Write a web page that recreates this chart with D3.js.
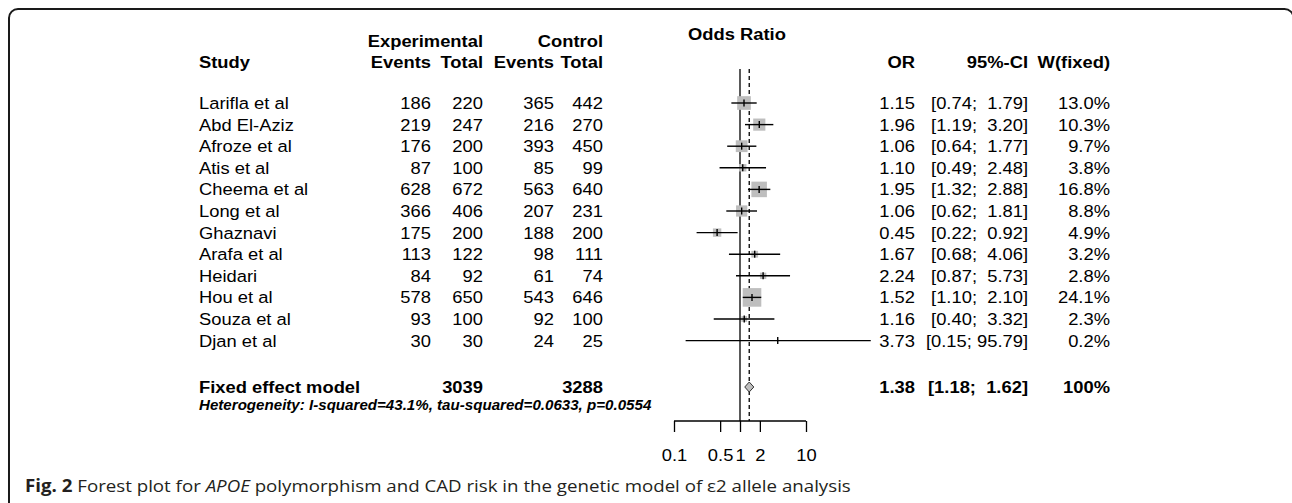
<!DOCTYPE html>
<html>
<head>
<meta charset="utf-8">
<script src="https://cdn.jsdelivr.net/npm/d3@7"></script>
<style>
    body { margin: 0; background: #fff; }
    svg text { font-family: "Liberation Sans", Arial, Helvetica, sans-serif; fill: #000; }
</style>
</head>
<body>
<div id="forest"></div>
<script>
// study data
var studies = ["Larifla et al", "Abd El-Aziz", "Afroze et al", "Atis et al", "Cheema et al", "Long et al",
    "Ghaznavi", "Arafa et al", "Heidari", "Hou et al", "Souza et al", "Djan et al"];
var expEvents = [186, 219, 176, 87, 628, 366, 175, 113, 84, 578, 93, 30];
var expTotal = [220, 247, 200, 100, 672, 406, 200, 122, 92, 650, 100, 30];
var ctrlEvents = [365, 216, 393, 85, 563, 207, 188, 98, 61, 543, 92, 24];
var ctrlTotal = [442, 270, 450, 99, 640, 231, 200, 111, 74, 646, 100, 25];
var oddsRatio = [1.15, 1.96, 1.06, 1.10, 1.95, 1.06, 0.45, 1.67, 2.24, 1.52, 1.16, 3.73];
var ciLower = [0.74, 1.19, 0.64, 0.49, 1.32, 0.62, 0.22, 0.68, 0.87, 1.10, 0.40, 0.15];
var ciUpper = [1.79, 3.20, 1.77, 2.48, 2.88, 1.81, 0.92, 4.06, 5.73, 2.10, 3.32, 95.79];
var weightFixed = [13.0, 10.3, 9.7, 3.8, 16.8, 8.8, 4.9, 3.2, 2.8, 24.1, 2.3, 0.2];

// pooled estimate
var pooled = {or: 1.38, lower: 1.18, upper: 1.62, weight: "100%", expTotal: 3039, ctrlTotal: 3288};
var heterogeneity = "Heterogeneity: I-squared=43.1%, tau-squared=0.0633, p=0.0554";
var axisTicks = [0.1, 0.5, 1, 2, 10];

var width = 1292, height = 503;

var svg = d3.select("#forest").append("svg")
    .attr("width", width)
    .attr("height", height);

// frame round the figure (right and bottom sides run off the page)
svg.append("rect")
    .attr("x", 9).attr("y", 9)
    .attr("width", 1284.5).attr("height", 560)
    .attr("rx", 9)
    .style("fill", "none")
    .style("stroke", "#1a1a1a")
    .style("stroke-width", 2);

// set the ranges
var x = d3.scaleLog().domain([0.1, 10]).range([674, 806]);
var y = d3.scaleLinear().domain([0, studies.length - 1]).range([103, 103 + 21.6 * (studies.length - 1)]);
var box = d3.scaleSqrt().domain([0, 24.1]).range([0, 18.6]);
var yPooled = 387, axisY = 421;

var fs = 17, stretch = 1.08;
var data = studies.map(function (s, i) {
    return {study: s, ee: expEvents[i], et: expTotal[i], ce: ctrlEvents[i], ct: ctrlTotal[i],
        or: oddsRatio[i], lo: ciLower[i], up: ciUpper[i], w: weightFixed[i]};
});

// column right edges (left edge for study)
var col = {study: 199, ee: 431, et: 483, ce: 554, ct: 603, or: 915, ci: 1028, w: 1110};

function ciText(lo, up) {
    var u = up.toFixed(2);
    if (u.length < 5) u = " " + u;
    return "[" + lo.toFixed(2) + "; " + u + "]";
}

// text is a bit wider than plain Arial in the figure, so stretch it sideways
function addText(txt, xp, yp, anchor, bold, size, italic) {
    return svg.append("text")
        .attr("transform", "translate(" + xp + "," + yp + ") scale(" + stretch + ",1)")
        .attr("dy", "0.35em")
        .attr("text-anchor", anchor)
        .style("font-size", (size || fs) + "px")
        .style("font-weight", bold ? "bold" : "normal")
        .style("font-style", italic ? "italic" : "normal")
        .style("white-space", "pre")
        .text(txt);
}

// headers
addText("Experimental", col.et, 41, "end", true);
addText("Control", col.ct, 41, "end", true);
addText("Study", col.study, 62, "start", true);
addText("Events", col.ee, 62, "end", true);
addText("Total", col.et, 62, "end", true);
addText("Events", col.ce, 62, "end", true);
addText("Total", col.ct, 62, "end", true);
addText("Odds Ratio", 688, 34, "start", true);
addText("OR", col.or, 62, "end", true);
addText("95%-CI", col.ci, 62, "end", true);
addText("W(fixed)", col.w, 62, "end", true);

// study rows
data.forEach(function (d, i) {
    var yy = y(i);
    addText(d.study, col.study, yy, "start");
    addText(d.ee, col.ee, yy, "end");
    addText(d.et, col.et, yy, "end");
    addText(d.ce, col.ce, yy, "end");
    addText(d.ct, col.ct, yy, "end");
    addText(d.or.toFixed(2), col.or, yy, "end");
    addText(ciText(d.lo, d.up), col.ci, yy, "end");
    addText(d.w.toFixed(1) + "%", col.w, yy, "end");
});

// pooled row
addText("Fixed effect model", col.study, yPooled, "start", true);
addText(pooled.expTotal, col.et, yPooled, "end", true);
addText(pooled.ctrlTotal, col.ct, yPooled, "end", true);
addText(pooled.or.toFixed(2), col.or, yPooled, "end", true);
addText(ciText(pooled.lower, pooled.upper), col.ci, yPooled, "end", true);
addText(pooled.weight, col.w, yPooled, "end", true);
addText(heterogeneity, col.study, 405, "start", true, 14, true);

// reference lines
svg.append("line")
    .attr("x1", x(1)).attr("x2", x(1))
    .attr("y1", 69).attr("y2", axisY)
    .style("stroke", "#000").style("stroke-width", 1.3);
svg.append("line")
    .attr("x1", x(pooled.or)).attr("x2", x(pooled.or))
    .attr("y1", 69).attr("y2", axisY)
    .style("stroke", "#000").style("stroke-width", 1.3)
    .style("stroke-dasharray", "4,3");

// squares
svg.selectAll("rect.box").data(data)
    .enter().append("rect")
    .attr("class", "box")
    .attr("x", function (d) { return x(d.or) - box(d.w) / 2; })
    .attr("y", function (d, i) { return y(i) - box(d.w) / 2; })
    .attr("width", function (d) { return box(d.w); })
    .attr("height", function (d) { return box(d.w); })
    .style("fill", "#bebebe");

// confidence intervals
svg.selectAll("line.ci").data(data)
    .enter().append("line")
    .attr("class", "ci")
    .attr("x1", function (d) { return x(d.lo); })
    .attr("x2", function (d) { return x(d.up); })
    .attr("y1", function (d, i) { return y(i); })
    .attr("y2", function (d, i) { return y(i); })
    .style("stroke", "#000").style("stroke-width", 1.4);

svg.selectAll("line.pt").data(data)
    .enter().append("line")
    .attr("class", "pt")
    .attr("x1", function (d) { return x(d.or); })
    .attr("x2", function (d) { return x(d.or); })
    .attr("y1", function (d, i) { return y(i) - 3.5; })
    .attr("y2", function (d, i) { return y(i) + 3.5; })
    .style("stroke", "#000").style("stroke-width", 1.4);

// pooled diamond
svg.append("path")
    .attr("d", "M" + x(pooled.lower) + "," + yPooled +
        "L" + x(pooled.or) + "," + (yPooled - 5) +
        "L" + x(pooled.upper) + "," + yPooled +
        "L" + x(pooled.or) + "," + (yPooled + 5) + "Z")
    .style("fill", "#bebebe")
    .style("stroke", "#333").style("stroke-width", 1);

// add the X Axis
var axis = svg.append("g")
    .attr("transform", "translate(0," + axisY + ")")
    .call(d3.axisBottom(x).tickValues(axisTicks).tickSize(11).tickPadding(17)
        .tickFormat(function (d) { return d3.format("")(d); }));
axis.select(".domain").attr("d", "M" + x(0.1) + ",0H" + x(10))
    .style("stroke", "#000").style("stroke-width", 1.3);
axis.selectAll(".tick line").style("stroke", "#000").style("stroke-width", 1.3);
axis.selectAll(".tick text")
    .attr("transform", "scale(" + stretch + ",1)")
    .style("font-size", fs + "px")
    .style("font-family", "Liberation Sans, Arial, sans-serif")
    .style("fill", "#000");

// caption
var cap = svg.append("text")
    .attr("transform", "translate(25,492) scale(1.1,1)")
    .style("font-family", "'Open Sans', 'Noto Sans', sans-serif")
    .style("font-size", "17px")
    .style("fill", "#231f20");
cap.append("tspan").style("font-weight", "bold").text("Fig. 2");
cap.append("tspan").text(" Forest plot for ");
cap.append("tspan").style("font-style", "italic").text("APOE");
cap.append("tspan").text(" polymorphism and CAD risk in the genetic model of \u03b52 allele analysis");
</script>
</body>
</html>
